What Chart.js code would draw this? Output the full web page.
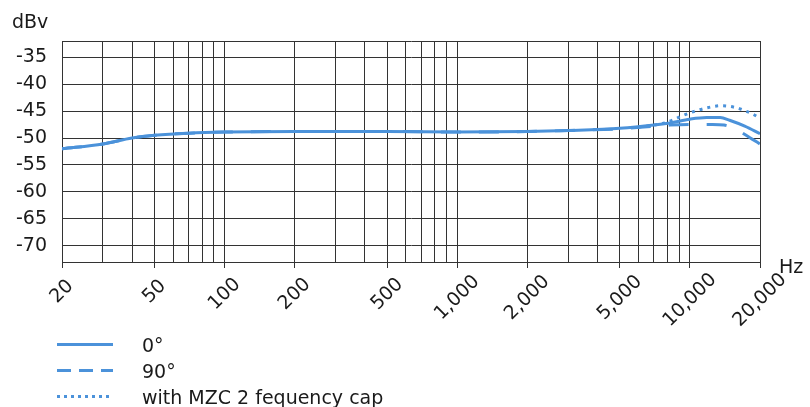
<!DOCTYPE html>
<html>
<head>
<meta charset="utf-8">
<script src="https://cdn.jsdelivr.net/npm/chart.js@4/dist/chart.umd.min.js"></script>
<style>
  html, body { margin: 0; padding: 0; background: #fff; }
  canvas { display: block; }
</style>
</head>
<body>
<canvas id="freq-chart" width="810" height="407"></canvas>
<script>
// frequency response values (Hz / dBV)
const freq0 = [20, 30, 40, 50, 70, 100, 200, 500, 1000, 2000, 3000, 5000, 7000, 8200, 10000, 11800, 13500, 14800, 17200, 20000];
const level0 = [-52.0, -51.1, -50.0, -49.5, -49.1, -48.9, -48.8, -48.8, -48.9, -48.8, -48.6, -48.2, -47.6, -47.2, -46.5, -46.2, -46.2, -46.7, -47.8, -49.2];

const freq90 = [20, 30, 40, 50, 70, 100, 200, 500, 1000, 2000, 3000, 5000, 7000, 8200, 10000, 12500, 14000, 15600, 18500, 20000];
const level90 = [-52.0, -51.1, -50.0, -49.5, -49.1, -48.9, -48.8, -48.8, -48.9, -48.8, -48.6, -48.3, -47.8, -47.6, -47.5, -47.5, -47.6, -48.3, -50.2, -51.1];

const freqCap = [6000, 7000, 7800, 8600, 9300, 10200, 11700, 13600, 15900, 17100, 18500, 20000];
const levelCap = [-48.0, -47.6, -47.2, -46.5, -45.85, -45.2, -44.45, -44.0, -44.4, -44.9, -45.5, -46.3];

const gridFreqs = [20, 30, 40, 50, 60, 70, 80, 90, 100, 200, 300, 400, 500, 600, 700, 800, 900,
  1000, 2000, 3000, 4000, 5000, 6000, 7000, 8000, 9000, 10000, 20000];
const labelFreqs = [20, 50, 100, 200, 500, 1000, 2000, 5000, 10000, 20000];
const levelTicks = [-73, -70, -65, -60, -55, -50, -45, -40, -35, -32];

const legendLabels = ["0°", "90°", "with MZC 2 fequency cap"];

const blue = "#4b92da";
const ink = "#1a1a1a";
const gridColor = "#333333";
const font = "19px 'DejaVu Sans', sans-serif";

Chart.defaults.font.family = "'DejaVu Sans', sans-serif";
Chart.defaults.font.size = 19;
Chart.defaults.color = ink;

const toPoints = (xs, ys) => xs.map((x, i) => ({ x: x, y: ys[i] }));

const legendStyles = [[], [14, 8], [3, 4]];

// rotated frequency labels centred on their tick, plus axis units and legend
const extraText = {
  id: "extraText",
  afterDraw(chart) {
    const ctx = chart.ctx;
    const xScale = chart.scales.x;
    ctx.save();
    ctx.fillStyle = ink;
    ctx.font = font;

    labelFreqs.forEach((f) => {
      const text = f.toLocaleString("en-US");
      const w = ctx.measureText(text).width;
      const px = xScale.getPixelForValue(f);
      ctx.save();
      ctx.translate(px, 287 + 0.2 * w);
      ctx.rotate(-Math.PI / 4);
      ctx.textAlign = "center";
      ctx.textBaseline = "middle";
      ctx.fillText(text, 0, 0);
      ctx.restore();
    });

    ctx.textBaseline = "alphabetic";
    ctx.textAlign = "left";
    ctx.fillText("dBv", 12, 28);
    ctx.fillText("Hz", 779, 273);

    const rowBase = [351.5, 377.5, 403.5];
    legendLabels.forEach((label, i) => {
      const midY = rowBase[i] - 7;
      ctx.strokeStyle = blue;
      ctx.lineWidth = 3;
      ctx.lineCap = "butt";
      ctx.setLineDash(legendStyles[i]);
      ctx.beginPath();
      ctx.moveTo(57, midY);
      ctx.lineTo(113, midY);
      ctx.stroke();
      ctx.setLineDash([]);
      ctx.fillText(label, 142, rowBase[i]);
    });
    ctx.restore();
  }
};

new Chart(document.getElementById("freq-chart"), {
  type: "line",
  data: {
    datasets: [
      {
        label: legendLabels[0],
        data: toPoints(freq0, level0),
        borderColor: blue,
        borderWidth: 3,
        pointRadius: 0,
        cubicInterpolationMode: "monotone"
      },
      {
        label: legendLabels[1],
        data: toPoints(freq90, level90),
        borderColor: blue,
        borderWidth: 3,
        borderDash: [20, 18],
        pointRadius: 0,
        cubicInterpolationMode: "monotone"
      },
      {
        label: legendLabels[2],
        data: toPoints(freqCap, levelCap),
        borderColor: blue,
        borderWidth: 3,
        borderDash: [3, 5],
        pointRadius: 0,
        cubicInterpolationMode: "monotone"
      }
    ]
  },
  options: {
    responsive: false,
    animation: false,
    events: [],
    layout: {
      padding: { top: 41, right: 50, left: 0, bottom: 0 }
    },
    plugins: {
      legend: { display: false },
      tooltip: { enabled: false }
    },
    scales: {
      x: {
        type: "logarithmic",
        min: 20,
        max: 20000,
        afterBuildTicks: (scale) => {
          scale.ticks = gridFreqs.map((v) => ({ value: v }));
        },
        afterFit: (scale) => {
          scale.height = 145;
        },
        grid: {
          color: gridColor,
          lineWidth: 1,
          drawTicks: true,
          tickLength: 6,
          tickColor: (ctx) => (ctx.tick && labelFreqs.includes(ctx.tick.value) ? gridColor : "rgba(0,0,0,0)")
        },
        border: { display: true, color: gridColor, width: 1 },
        ticks: {
          display: false,
          autoSkip: false
        }
      },
      y: {
        min: -73,
        max: -32,
        afterBuildTicks: (scale) => {
          scale.ticks = levelTicks.map((v) => ({ value: v }));
        },
        afterFit: (scale) => {
          scale.width = 62;
        },
        grid: {
          color: gridColor,
          lineWidth: 1,
          drawTicks: false
        },
        border: { display: true, color: gridColor, width: 1 },
        ticks: {
          autoSkip: false,
          padding: 15,
          callback: (value) => (value % 5 === 0 ? String(value) : "")
        }
      }
    }
  },
  plugins: [extraText]
});
</script>
</body>
</html>
